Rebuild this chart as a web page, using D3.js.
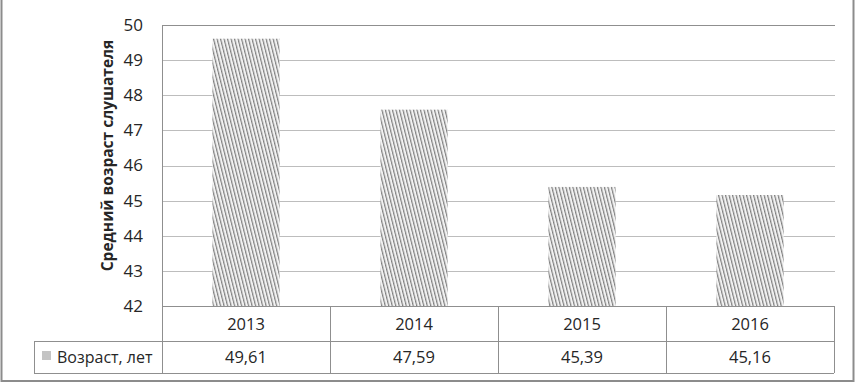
<!DOCTYPE html>
<html>
<head>
<meta charset="utf-8">
<script src="https://cdn.jsdelivr.net/npm/d3@7"></script>
<style>
  body { margin: 0; background: #fff; }
  text { font-family: "Open Sans", "Noto Sans", sans-serif; fill: #262626; }
</style>
</head>
<body>
<svg id="chart" width="856" height="383"></svg>
<script>
// Data
const years = ["2013", "2014", "2015", "2016"];
const ages = [49.61, 47.59, 45.39, 45.16];
const ageLabels = ["49,61", "47,59", "45,39", "45,16"];
const yTicks = [42, 43, 44, 45, 46, 47, 48, 49, 50];
const seriesName = "Возраст, лет";
const axisTitle = "Средний возраст слушателя";

const svg = d3.select("#chart");

// Plot area geometry
const plot = { left: 162, right: 834, top: 25, bottom: 306 };
const table = { left: 34, row1: 306, row2: 341, bottom: 373 };

const x = d3.scaleBand()
    .domain(years)
    .range([plot.left, plot.right])
    .paddingInner(0.6)
    .paddingOuter(0.3);

// cells of the data table share the same columns, no padding
const xCell = d3.scaleBand()
    .domain(years)
    .range([plot.left, plot.right]);

const y = d3.scaleLinear()
    .domain([42, 50])
    .range([plot.bottom, plot.top]);

// Hatch pattern for the bars
const defs = svg.append("defs");
const hatch = defs.append("pattern")
    .attr("id", "hatch")
    .attr("patternUnits", "userSpaceOnUse")
    .attr("width", 3.4)
    .attr("height", 4)
    .attr("patternTransform", "rotate(-14)");
hatch.append("rect")
    .attr("width", 3.4).attr("height", 4)
    .attr("fill", "#f2f2f2");
hatch.append("rect")
    .attr("x", 0).attr("y", 0)
    .attr("width", 1.2).attr("height", 4)
    .attr("fill", "#808080");

// Outer frame
svg.append("rect")
    .attr("x", 1.5)
    .attr("y", -5)
    .attr("width", 852)
    .attr("height", 386)
    .attr("fill", "none")
    .attr("stroke", "#8c8c8c")
    .attr("stroke-width", 2);

// Gridlines
svg.append("g")
    .selectAll("line")
    .data(yTicks.filter(d => d !== 42))
    .join("line")
    .attr("x1", plot.left)
    .attr("x2", plot.right + 1)
    .attr("y1", d => Math.round(y(d)) + 0.5)
    .attr("y2", d => Math.round(y(d)) + 0.5)
    .attr("stroke", d => d === 50 ? "#8f8f8f" : "#bdbdbd")
    .attr("stroke-width", 1);

// Y tick labels
const yAxis = d3.axisLeft(y)
    .tickValues(yTicks)
    .tickSize(0)
    .tickPadding(19)
    .tickFormat(d3.format("d"));

svg.append("g")
    .attr("transform", `translate(${plot.left},0)`)
    .call(yAxis)
    .call(g => g.select(".domain").remove())
    .call(g => g.selectAll("text")
        .attr("font-size", 17)
        .attr("font-family", "'Open Sans', sans-serif")
        .attr("fill", "#262626"));

// Axis title
svg.append("text")
    .attr("transform", `translate(113, ${(plot.top + plot.bottom) / 2 - 10}) rotate(-90)`)
    .attr("text-anchor", "middle")
    .attr("font-size", 15.5)
    .attr("font-weight", "bold")
    .attr("fill", "#000")
    .text(axisTitle);

// Bars
svg.append("g")
    .selectAll("rect")
    .data(ages)
    .join("rect")
    .attr("x", (d, i) => x(years[i]))
    .attr("y", d => y(d))
    .attr("width", x.bandwidth())
    .attr("height", d => y(42) - y(d))
    .attr("fill", "url(#hatch)");

// Data table lines
const lineColor = "#8f8f8f";
const tbl = svg.append("g")
    .attr("stroke", lineColor)
    .attr("stroke-width", 1)
    .attr("shape-rendering", "crispEdges");

// horizontal lines
tbl.append("line")
    .attr("x1", plot.left).attr("x2", plot.right)
    .attr("y1", table.row1).attr("y2", table.row1);
tbl.append("line")
    .attr("x1", table.left).attr("x2", plot.right)
    .attr("y1", table.row2).attr("y2", table.row2);
tbl.append("line")
    .attr("x1", table.left).attr("x2", plot.right)
    .attr("y1", table.bottom).attr("y2", table.bottom);

// vertical axis line of plot down through table
tbl.append("line")
    .attr("x1", plot.left).attr("x2", plot.left)
    .attr("y1", plot.top).attr("y2", table.bottom);
// legend cell left edge
tbl.append("line")
    .attr("x1", table.left).attr("x2", table.left)
    .attr("y1", table.row2).attr("y2", table.bottom);
// column dividers
tbl.selectAll(".col")
    .data(years)
    .join("line")
    .attr("class", "col")
    .attr("x1", d => xCell(d) + xCell.bandwidth())
    .attr("x2", d => xCell(d) + xCell.bandwidth())
    .attr("y1", table.row1)
    .attr("y2", table.bottom);

// Category labels
svg.append("g")
    .selectAll("text")
    .data(years)
    .join("text")
    .attr("x", d => xCell(d) + xCell.bandwidth() / 2)
    .attr("y", (table.row1 + table.row2) / 2 + 6)
    .attr("text-anchor", "middle")
    .attr("font-size", 16.5)
    .text(d => d);

// Values row
svg.append("g")
    .selectAll("text")
    .data(ageLabels)
    .join("text")
    .attr("x", (d, i) => xCell(years[i]) + xCell.bandwidth() / 2)
    .attr("y", (table.row2 + table.bottom) / 2 + 6)
    .attr("text-anchor", "middle")
    .attr("font-size", 16.5)
    .text(d => d);

// Legend key and name
svg.append("rect")
    .attr("x", 42)
    .attr("y", 351)
    .attr("width", 9)
    .attr("height", 9)
    .attr("fill", "#c4c4c4");

svg.append("text")
    .attr("x", 57)
    .attr("y", (table.row2 + table.bottom) / 2 + 6)
    .attr("font-size", 16)
    .text(seriesName);
</script>
</body>
</html>
